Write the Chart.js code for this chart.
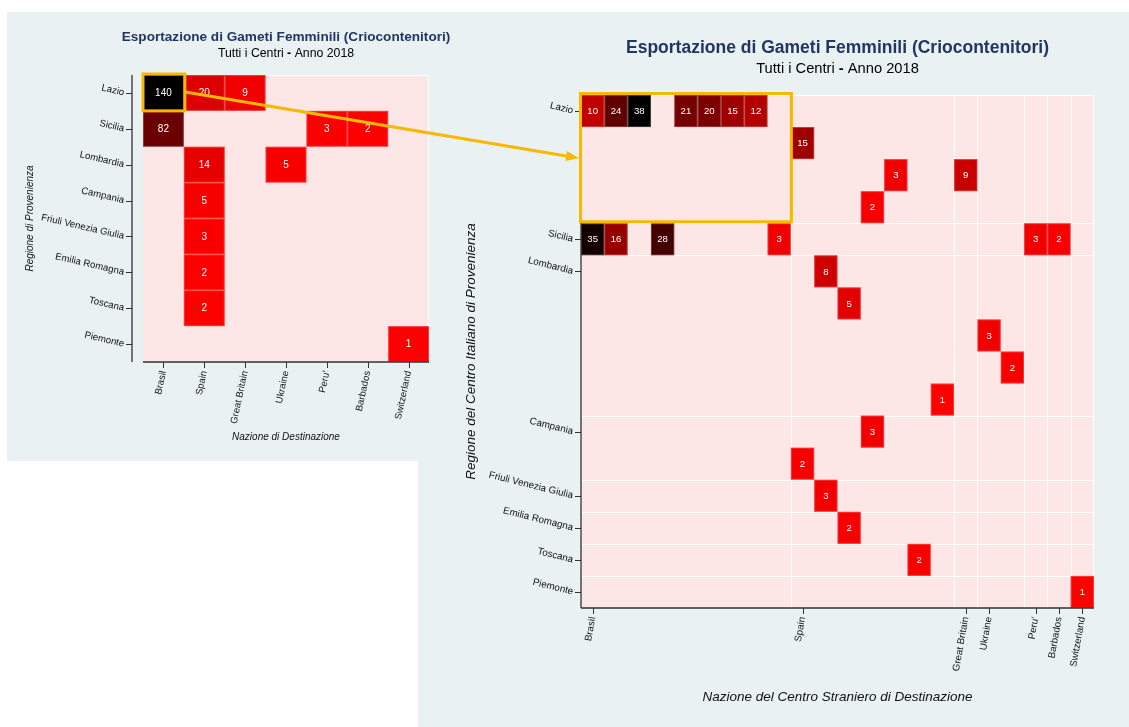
<!DOCTYPE html>
<html>
<head>
<meta charset="utf-8">
<script src="https://cdn.jsdelivr.net/npm/chart.js@4"></script>
<style>
body{margin:0;background:#fff;width:1129px;height:727px;overflow:hidden;position:relative}
.panel{position:absolute;background:#e9f1f3}
canvas{position:absolute;left:0;top:0}
</style>
</head>
<body>
<div class="panel" style="left:7px;top:12px;width:411px;height:449px"></div>
<div class="panel" style="left:418px;top:12px;width:711px;height:715px"></div>
<canvas id="leftChart" width="1129" height="727"></canvas>
<canvas id="rightChart" width="1129" height="727"></canvas>
<script>
const regions = ['Lazio', 'Sicilia', 'Lombardia', 'Campania', 'Friuli Venezia Giulia', 'Emilia Romagna', 'Toscana', 'Piemonte'];
const countries = ['Brasil', 'Spain', 'Great Britain', 'Ukraine', "Peru'", 'Barbados', 'Switzerland'];

// left chart: totals region -> country
const totRegion  = [0, 0, 0, 1, 1, 1, 2, 2, 3, 4, 5, 6, 7];
const totCountry = [0, 1, 2, 0, 4, 5, 1, 3, 1, 1, 1, 1, 6];
const totValue   = [140, 20, 9, 82, 3, 2, 14, 5, 5, 3, 2, 2, 1];

// right chart: single centres (rows = italian centres, cols = foreign centres)
const centresPerRegion  = [4, 1, 5, 2, 1, 1, 1, 1];
const centresPerCountry = [9, 7, 1, 2, 1, 1, 1];
const centreRow   = [0, 0, 0, 0, 0, 0, 0, 1, 2, 2, 3, 4, 4, 4, 4, 4, 4, 5, 6, 7, 8, 9, 10, 11, 12, 13, 14, 15];
const centreCol   = [0, 1, 2, 4, 5, 6, 7, 9, 13, 16, 12, 0, 1, 3, 8, 19, 20, 10, 11, 17, 18, 15, 12, 9, 10, 11, 14, 21];
const centreValue = [10, 24, 38, 21, 20, 15, 12, 15, 3, 9, 2, 35, 16, 28, 3, 3, 2, 8, 5, 3, 2, 1, 3, 2, 3, 2, 2, 1];

const title = 'Esportazione di Gameti Femminili (Criocontenitori)';
const subtitle = ['Tutti i Centri ', '-', ' Anno 2018'];

const FONT = "'Liberation Sans', Arial, sans-serif";
const YELLOW = '#f6b800';

const starts = sizes => sizes.map((s, i) => sizes.slice(0, i).reduce((a, b) => a + b, 0));

const cellColor = (v, max) => {
    const r = Math.round(255 * (1 - (v - 1) / (max - 1)));
    return 'rgb(' + r + ',0,0)';
}

const rotText = (ctx, text, px, py, deg, align) => {
    ctx.save();
    ctx.translate(px, py);
    ctx.rotate(deg * Math.PI / 180);
    ctx.textAlign = align;
    ctx.textBaseline = 'middle';
    ctx.fillText(text, 0, 0);
    ctx.restore();
}

const heat = (cfg) => ({
    id: 'heat',
    beforeDatasetsDraw(chart) {
        const {ctx, chartArea: a, scales: {x, y}} = chart;
        ctx.save();
        ctx.fillStyle = '#fde6e6';
        ctx.fillRect(a.left, a.top, a.width, a.height);

        ctx.strokeStyle = '#ffffff';
        ctx.lineWidth = 1;
        ctx.beginPath();
        if (cfg.groupLines) {
            cfg.colTicks.slice(1).forEach(c => {
                const px = Math.round(x.getPixelForValue(c - 0.5)) + 0.5;
                ctx.moveTo(px, a.top); ctx.lineTo(px, a.bottom);
            });
            cfg.rowTicks.slice(1).forEach(r => {
                const py = Math.round(y.getPixelForValue(r - 0.5)) + 0.5;
                ctx.moveTo(a.left, py); ctx.lineTo(a.right, py);
            });
        }
        ctx.moveTo(a.left, a.top + 0.5); ctx.lineTo(a.right, a.top + 0.5);
        ctx.moveTo(a.right - 0.5, a.top); ctx.lineTo(a.right - 0.5, a.bottom);
        ctx.stroke();

        chart.data.datasets[0].data.forEach(d => {
            const x0 = x.getPixelForValue(d.x - 0.5), x1 = x.getPixelForValue(d.x + 0.5);
            const y0 = y.getPixelForValue(d.y - 0.5), y1 = y.getPixelForValue(d.y + 0.5);
            ctx.fillStyle = cellColor(d.v, cfg.max);
            ctx.fillRect(x0, y0, x1 - x0, y1 - y0);
            ctx.strokeStyle = 'rgba(255,255,255,0.22)';
            ctx.strokeRect(x0 + 0.5, y0 + 0.5, x1 - x0 - 1, y1 - y0 - 1);
            ctx.fillStyle = '#ffffff';
            ctx.font = cfg.cellFont + 'px ' + FONT;
            ctx.textAlign = 'center';
            ctx.textBaseline = 'middle';
            ctx.fillText(String(d.v), (x0 + x1) / 2, (y0 + y1) / 2 + 0.5);
        });
        ctx.restore();
    },
    afterDraw(chart) {
        const {ctx, chartArea: a, scales: {x, y}} = chart;
        ctx.save();
        const ax = a.left - cfg.yGap;
        ctx.strokeStyle = '#333';
        ctx.lineWidth = 1.3;
        ctx.beginPath();
        ctx.moveTo(ax, a.top); ctx.lineTo(ax, a.bottom);
        ctx.moveTo(a.left, a.bottom); ctx.lineTo(a.right, a.bottom);
        ctx.stroke();

        ctx.lineWidth = 1;
        ctx.beginPath();
        cfg.rowTicks.forEach(r => {
            const py = Math.round(y.getPixelForValue(r)) + 0.5;
            ctx.moveTo(ax - 6, py); ctx.lineTo(ax, py);
        });
        cfg.colTicks.forEach(c => {
            const px = Math.round(x.getPixelForValue(c)) + 0.5;
            ctx.moveTo(px, a.bottom); ctx.lineTo(px, a.bottom + 6);
        });
        ctx.stroke();

        ctx.fillStyle = '#111';
        ctx.font = cfg.tickFont + 'px ' + FONT;
        cfg.rowTicks.forEach((r, i) => {
            rotText(ctx, cfg.rowLabels[i], ax - 8, y.getPixelForValue(r), cfg.yRot, 'right');
        });
        cfg.colTicks.forEach((c, i) => {
            rotText(ctx, cfg.colLabels[i], x.getPixelForValue(c), a.bottom + 9, -cfg.xRot, 'right');
        });

        // axis titles
        const cx = (a.left + a.right) / 2, cy = (a.top + a.bottom) / 2;
        ctx.font = 'italic ' + cfg.axisFont + 'px ' + FONT;
        ctx.textAlign = 'center';
        ctx.textBaseline = 'middle';
        ctx.fillText(cfg.xTitle, cx, cfg.xTitleY);
        rotText(ctx, cfg.yTitle, cfg.yTitleX, cy, -90, 'center');

        // titles
        ctx.fillStyle = '#233561';
        ctx.font = 'bold ' + cfg.titleSize + 'px ' + FONT;
        ctx.textBaseline = 'alphabetic';
        ctx.fillText(title, cx, cfg.titleY);

        ctx.fillStyle = '#000';
        const fonts = [cfg.subSize + 'px ' + FONT, 'bold ' + cfg.subSize + 'px ' + FONT, cfg.subSize + 'px ' + FONT];
        const widths = subtitle.map((s, i) => { ctx.font = fonts[i]; return ctx.measureText(s).width; });
        let sx = cx - widths.reduce((p, q) => p + q, 0) / 2;
        ctx.textAlign = 'left';
        subtitle.forEach((s, i) => {
            ctx.font = fonts[i];
            ctx.fillText(s, sx, cfg.subY);
            sx += widths[i];
        });
        ctx.restore();
    }
});

const leftChart = new Chart(document.getElementById('leftChart'), {
    type: 'scatter',
    data: {
        datasets: [{
            data: totValue.map((v, i) => ({x: totCountry[i], y: totRegion[i], v: v})),
            pointRadius: 0
        }]
    },
    options: {
        responsive: false,
        animation: false,
        events: [],
        layout: {padding: {left: 143, top: 75, right: 700, bottom: 365}},
        plugins: {legend: {display: false}, tooltip: {enabled: false}},
        scales: {
            x: {type: 'linear', display: false, min: -0.5, max: countries.length - 0.5},
            y: {type: 'linear', display: false, min: -0.5, max: regions.length - 0.5, reverse: true}
        }
    },
    plugins: [heat({
        max: 140, groupLines: false, yGap: 11, cellFont: 10, tickFont: 9.6, yRot: 13, xRot: 78,
        rowTicks: regions.map((r, i) => i), rowLabels: regions,
        colTicks: countries.map((c, i) => i), colLabels: countries,
        axisFont: 10, xTitle: 'Nazione di Destinazione', xTitleY: 437,
        yTitle: 'Regione di Provenienza', yTitleX: 30,
        titleSize: 13.6, titleY: 41, subSize: 12.3, subY: 57
    })]
});

const highlight = {
    id: 'highlight',
    afterDraw(chart) {
        const {ctx, scales: {x, y}} = chart;
        const lx = leftChart.scales.x, ly = leftChart.scales.y;
        const b1 = {l: lx.getPixelForValue(-0.5), r: lx.getPixelForValue(0.5), t: ly.getPixelForValue(-0.5), b: ly.getPixelForValue(0.5)};
        const b2 = {l: x.getPixelForValue(-0.5), r: x.getPixelForValue(centresPerCountry[0] - 0.5),
                    t: y.getPixelForValue(-0.5), b: y.getPixelForValue(centresPerRegion[0] - 0.5)};
        ctx.save();
        ctx.strokeStyle = YELLOW;
        ctx.fillStyle = YELLOW;
        ctx.lineWidth = 3;
        ctx.strokeRect(b1.l, b1.t - 1, b1.r - b1.l + 1, b1.b - b1.t + 1);
        ctx.strokeRect(b2.l - 0.5, b2.t - 1.5, b2.r - b2.l + 1, b2.b - b2.t);

        const x0 = b1.r + 1.5, y0 = (b1.t + b1.b) / 2 - 1;
        const x1 = b2.l - 2, y1 = (b2.t + b2.b) / 2 - 1;
        const ang = Math.atan2(y1 - y0, x1 - x0);
        const hl = 13, hw = 5;
        ctx.beginPath();
        ctx.moveTo(x0, y0);
        ctx.lineTo(x1 - hl * Math.cos(ang), y1 - hl * Math.sin(ang));
        ctx.stroke();
        ctx.beginPath();
        ctx.moveTo(x1, y1);
        ctx.lineTo(x1 - hl * Math.cos(ang) + hw * Math.sin(ang), y1 - hl * Math.sin(ang) - hw * Math.cos(ang));
        ctx.lineTo(x1 - hl * Math.cos(ang) - hw * Math.sin(ang), y1 - hl * Math.sin(ang) + hw * Math.cos(ang));
        ctx.closePath();
        ctx.fill();
        ctx.restore();
    }
};

const rightChart = new Chart(document.getElementById('rightChart'), {
    type: 'scatter',
    data: {
        datasets: [{
            data: centreValue.map((v, i) => ({x: centreCol[i], y: centreRow[i], v: v})),
            pointRadius: 0
        }]
    },
    options: {
        responsive: false,
        animation: false,
        events: [],
        layout: {padding: {left: 581, top: 95, right: 35, bottom: 119}},
        plugins: {legend: {display: false}, tooltip: {enabled: false}},
        scales: {
            x: {type: 'linear', display: false, min: -0.5, max: centresPerCountry.reduce((a, b) => a + b, 0) - 0.5},
            y: {type: 'linear', display: false, min: -0.5, max: centresPerRegion.reduce((a, b) => a + b, 0) - 0.5, reverse: true}
        }
    },
    plugins: [heat({
        max: 38, groupLines: true, yGap: 0, cellFont: 9.6, tickFont: 9.8, yRot: 14, xRot: 80,
        rowTicks: starts(centresPerRegion), rowLabels: regions,
        colTicks: starts(centresPerCountry), colLabels: countries,
        axisFont: 13.5, xTitle: 'Nazione del Centro Straniero di Destinazione', xTitleY: 697,
        yTitle: 'Regione del Centro Italiano di Provenienza', yTitleX: 471,
        titleSize: 17.5, titleY: 53, subSize: 14.7, subY: 73
    }), highlight]
});
</script>
</body>
</html>
